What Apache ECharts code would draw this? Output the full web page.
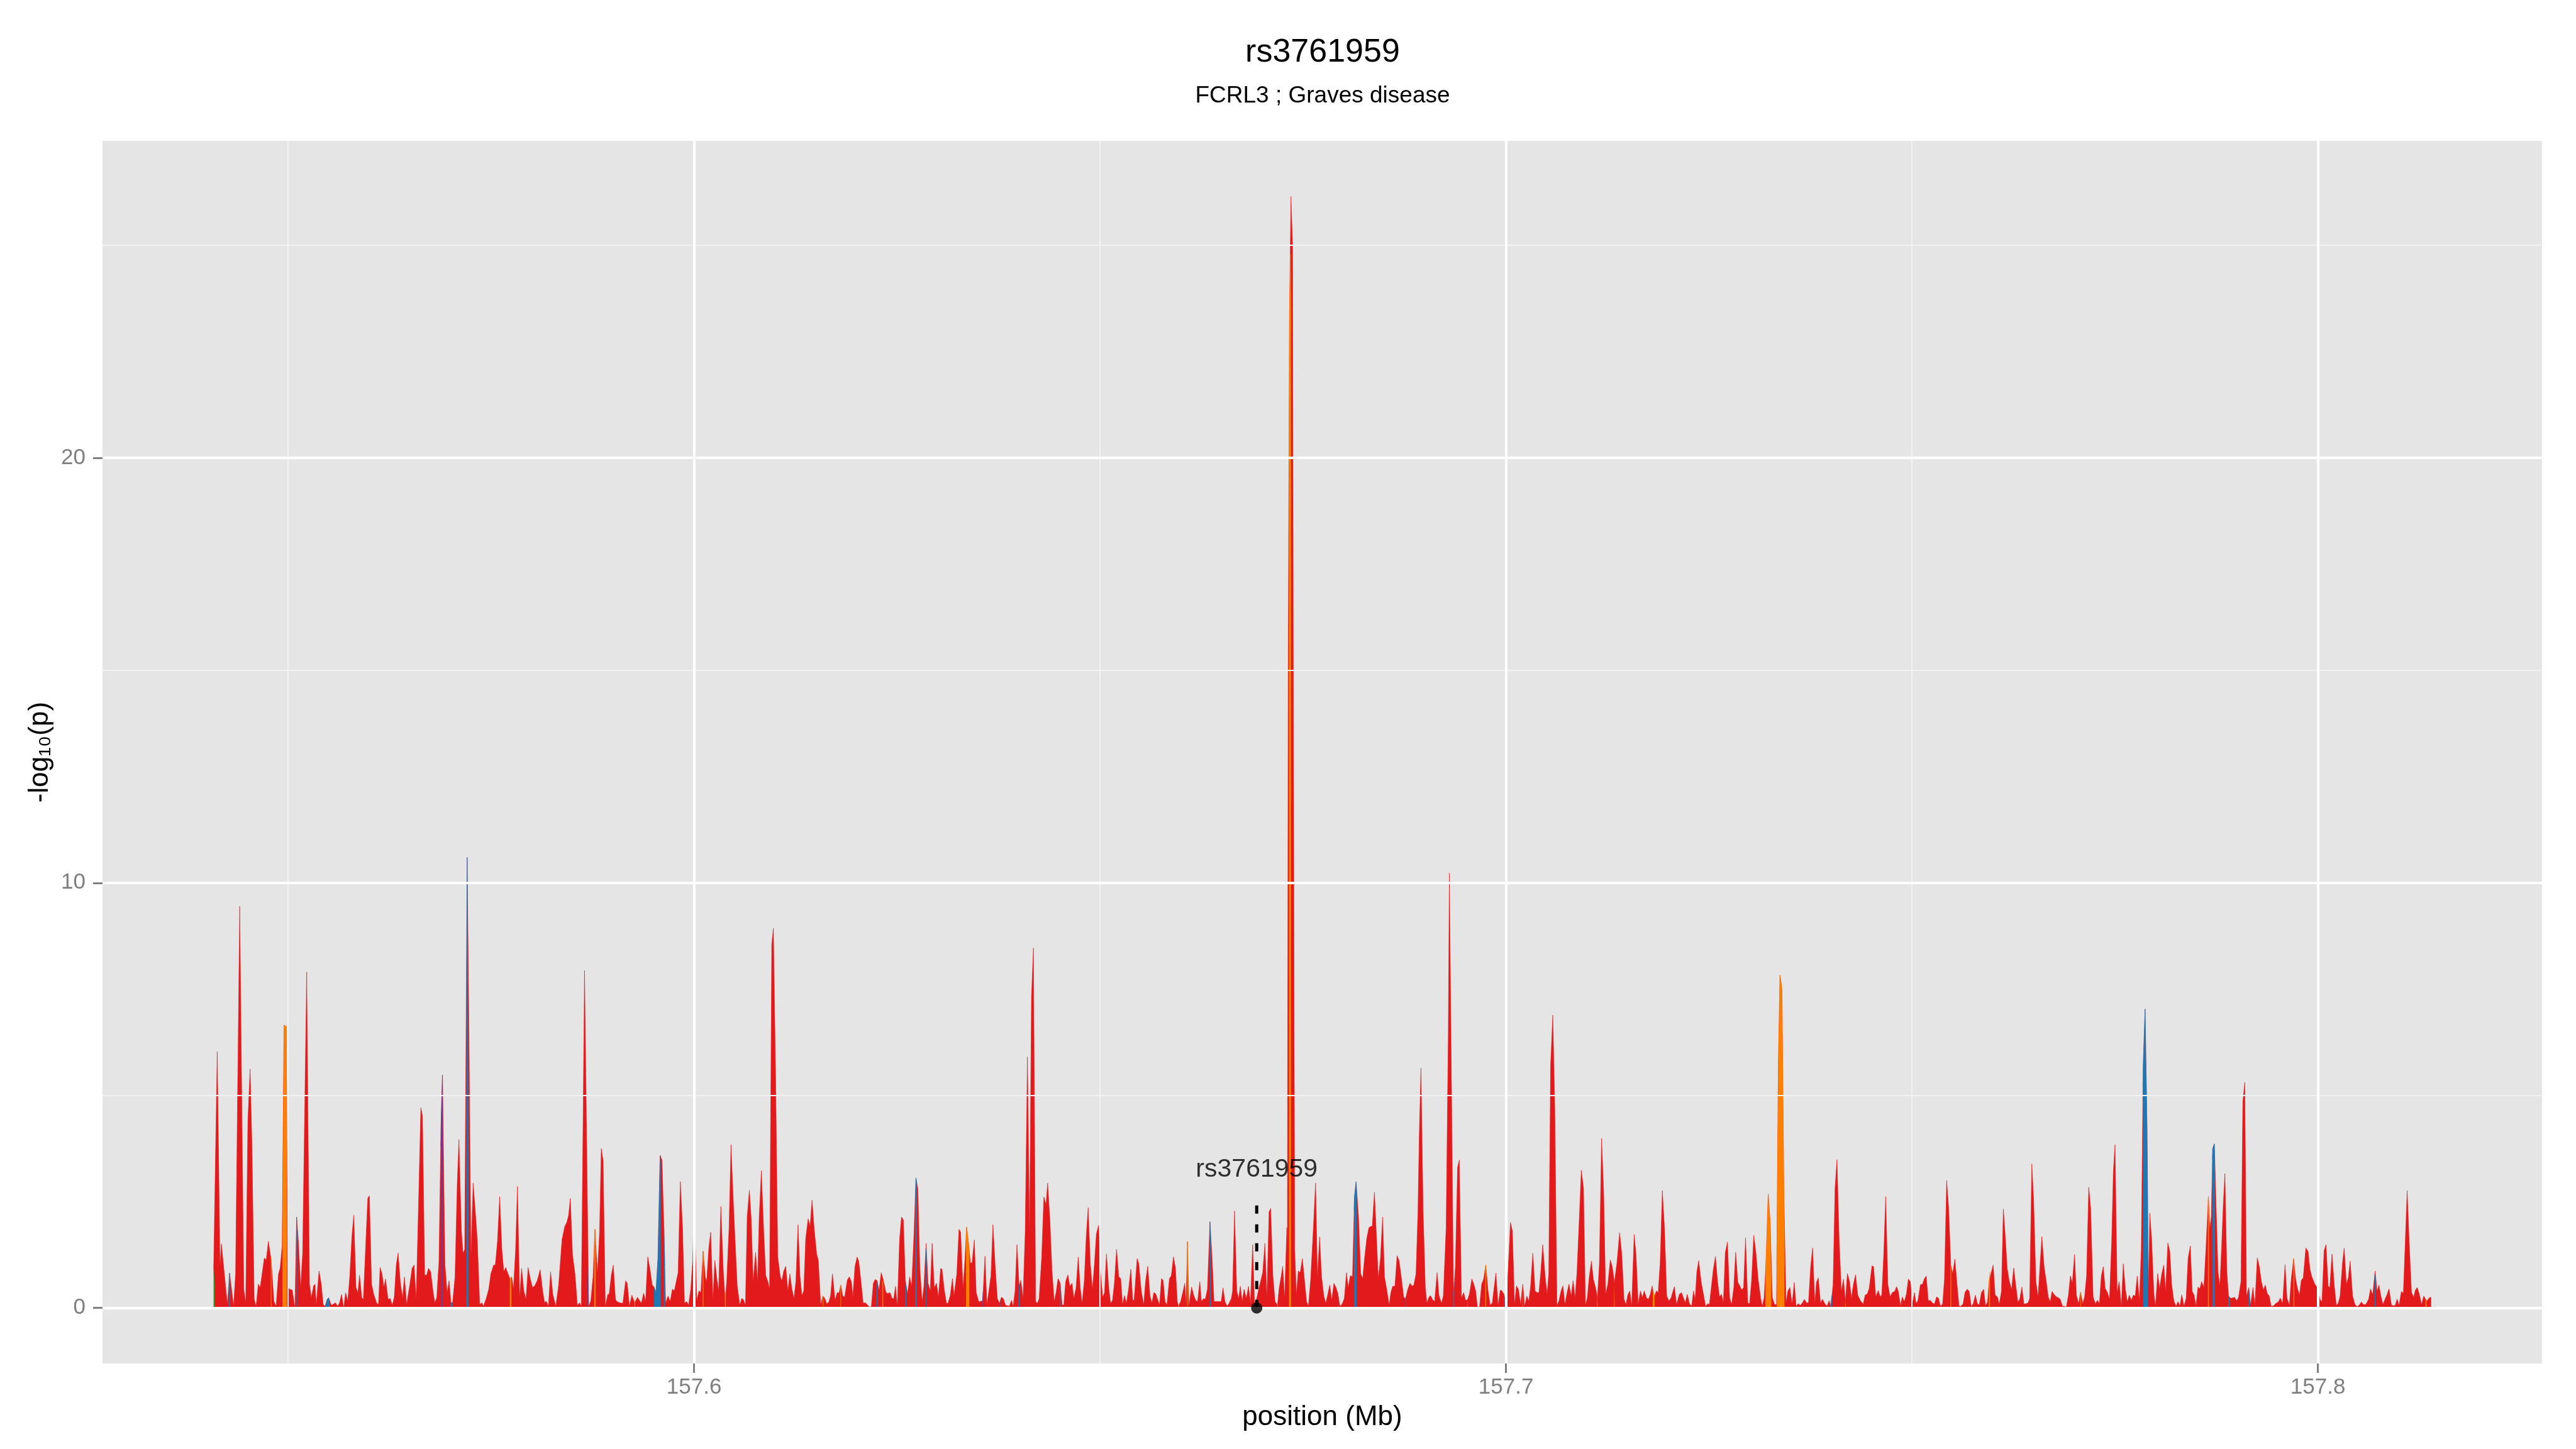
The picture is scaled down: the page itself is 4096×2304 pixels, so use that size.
<!DOCTYPE html>
<html>
<head>
<meta charset="utf-8">
<title>rs3761959</title>
<script src="https://cdn.jsdelivr.net/npm/echarts@6.0.0/dist/echarts.min.js"></script>
<style>
  html, body { margin: 0; padding: 0; background: #fff; }
  #chart { width: 4096px; height: 2304px; }
</style>
</head>
<body>
<div id="chart"></div>
<script>
// -log10(p) along the region, [position (Mb), value], split in windows
const logpA = [
  [157.54083,0.93],[157.54127,6.03],[157.54161,0.97],[157.54178,1.51],[157.54252,0.08],[157.54279,0.82],[157.54329,0.04],[157.54353,0.81],
  [157.54404,9.45],[157.54454,0.44],[157.54478,0.12],[157.54505,4.43],[157.54532,5.62],[157.54555,3.79],[157.54582,0.2],[157.54606,0.04],
  [157.54633,0.56],[157.54656,0.48],[157.54707,1.17],[157.54731,1.13],[157.54757,1.57],[157.54791,1.13],[157.54825,0.16],[157.54852,0.04],
  [157.54882,0.81],[157.54902,0.93],[157.54926,1.45],[157.54950,6.65],[157.54977,6.62],[157.54993,0.5],[157.55017,0.44],[157.55051,0.42],
  [157.55084,0],[157.55105,2.14],[157.55128,1.53],[157.55155,0.48],[157.55179,1.29],[157.55229,7.9],[157.55263,0.56],[157.55287,0.24],
  [157.55314,0.52],[157.55331,0.56],[157.55347,0.08],[157.55381,0.87],[157.55408,0.56],[157.55432,0.08],[157.55455,0.04],[157.55482,0.2],
  [157.55499,0.24],[157.55533,0.06],[157.55583,0.12],[157.55610,0.04],[157.55634,0.12],[157.55658,0.32],[157.55685,0],[157.55708,0.36],
  [157.55735,0.16],[157.55759,0.73],[157.55786,1.69],[157.55809,2.18],[157.55836,0.48],[157.55860,0.36],[157.55880,0.77],[157.55907,0.24],
  [157.55927,0.2],[157.55981,2.58],[157.56001,2.64],[157.56028,0.56],[157.56055,0.32],[157.56089,0.12],[157.56113,0.08],[157.56133,0.95],
  [157.56156,0.81],[157.56180,0.48],[157.56200,0.68],[157.56231,0.2],[157.56258,0.22],[157.56284,0.06],[157.56308,0.26],[157.56332,1.01],
  [157.56355,1.29],[157.56382,0.6],[157.56409,0.24],[157.56433,0.73],[157.56460,0.08],[157.56500,0.56],[157.56527,0.93],[157.56551,1.01],
  [157.56578,0.2],[157.56635,4.71],[157.56655,4.51],[157.56682,0.77],[157.56706,0.77],[157.56729,0.93],[157.56756,0.85],[157.56787,0.36],
  [157.56807,0.12],[157.56831,0.24],[157.56858,1.09],[157.56885,4.43],[157.56901,5.48],[157.56932,1.01],[157.56959,0.36],[157.56982,0.64],
  [157.57006,0.12],[157.57026,0.12],[157.57056,0.73],[157.57083,2.9],[157.57104,3.96],[157.57134,1.81],[157.57154,1.29],[157.57175,1.37],
  [157.57205,10.6],[157.57225,7.01],[157.57252,1.21],[157.57279,2.94],[157.57303,2.34],[157.57330,1.61],[157.57360,0.08],[157.57387,0.12],
  [157.57404,0.04],[157.57437,0.2],[157.57471,0.44],[157.57498,0.81],[157.57532,1.01],[157.57552,1.01],[157.57579,1.57],[157.57606,2.62],
  [157.57633,1.37],[157.57657,0.85],[157.57680,0.95],[157.57707,0.81],[157.57734,0.68],[157.57754,0.73],[157.57775,0.44],[157.57802,1.37],
  [157.57825,2.86],[157.57852,0.24],[157.57876,0.93],[157.57903,0.4],[157.57930,0.2],[157.57956,0.95],[157.57983,0.68],[157.58011,0.48],
  [157.58037,0.52],[157.58068,0.64],[157.58105,0.9],[157.58135,0.4],[157.58159,0.12],[157.58179,0.16],[157.58206,0.04],[157.58233,0.85],
  [157.58260,0.32],[157.58297,0.04],[157.58331,0.52],[157.58374,1.61],[157.58408,1.92],[157.58432,2.01],[157.58455,2.18],[157.58476,2.58],
  [157.58503,1.25],[157.58533,0.81],[157.58563,0.06],[157.58590,0.12],[157.58611,0.04],[157.58651,7.94],[157.58678,3.79],[157.58702,0.04],
  [157.58728,0.16],[157.58756,0.73],[157.58779,1.85],[157.58809,0.81],[157.58836,1.77],[157.58857,3.75],[157.58880,3.46],[157.58907,0.04],
  [157.58938,0.32],[157.58954,0.32],[157.58981,0.77],[157.59005,1.01],[157.59032,0.2]
]
const logpB = [
  [157.59049,0.15],[157.59083,0.12],[157.59123,0.11],[157.59157,0.64],[157.59177,0.58],[157.59204,0.04],[157.59234,0.3],[157.59268,0.11],
  [157.59302,0.25],[157.59352,0.11],[157.59379,0.35],[157.59403,0.15],[157.59430,1.2],[157.59457,0.91],[157.59484,0.54],[157.59507,0.49],
  [157.59531,0.36],[157.59555,1.16],[157.59582,3.59],[157.59605,3.48],[157.59629,1.89],[157.59649,0.11],[157.59679,0.28],[157.59706,0.15],
  [157.59733,0.44],[157.59757,0.4],[157.59784,0.65],[157.59804,0.83],[157.59831,2.97],[157.59858,1.89],[157.59882,0.11],[157.59909,0.15],
  [157.59932,0.07],[157.59959,0.44],[157.59983,1.09],[157.60003,2.39],[157.60033,0.18],[157.60060,0.4],[157.60084,0.36],[157.60111,1.34],
  [157.60138,0.73],[157.60155,0.62],[157.60182,1.41],[157.60205,1.78],[157.60232,0.18],[157.60256,1.12],[157.60283,0.65],[157.60303,0.4],
  [157.60330,2.39],[157.60360,0.87],[157.60384,0.15],[157.60404,0.69],[157.60431,1.89],[157.60455,3.84],[157.60482,2.57],[157.60505,1.6],
  [157.60532,0.51],[157.60563,0.07],[157.60586,0.22],[157.60606,0.2],[157.60633,0.07],[157.60654,2.14],[157.60681,2.77],[157.60704,2.1],
  [157.60728,0.62],[157.60758,1.31],[157.60782,0.62],[157.60802,2.14],[157.60829,3.23],[157.60856,1.89],[157.60883,0.76],[157.60910,0.62],
  [157.60930,0.44],[157.60957,8.56],[157.60977,8.93],[157.61004,5.51],[157.61031,1.2],[157.61062,0.73],[157.61082,0.64],[157.61105,0.87],
  [157.61129,0.98],[157.61156,0.4],[157.61180,0.8],[157.61203,0.47],[157.61230,0.22],[157.61254,0.62],[157.61281,1.96],[157.61304,0.76],
  [157.61328,0.29],[157.61351,0.4],[157.61375,1.63],[157.61405,2.1],[157.61429,1.92],[157.61453,2.54],[157.61480,1.85],[157.61510,1.27],
  [157.61530,1.12],[157.61560,0.07],[157.61587,0.28],[157.61611,0.22],[157.61635,0.09],[157.61662,0.15],[157.61682,0.29],[157.61705,0.8],
  [157.61736,0.18],[157.61763,0.36],[157.61786,0.35],[157.61807,0.54],[157.61830,0.29],[157.61854,0.25],[157.61887,0.65],[157.61911,0.73],
  [157.61938,0.62],[157.61955,0.25],[157.61982,0.98],[157.62009,1.2],[157.62029,1.09],[157.62056,0.62],[157.62083,0.11],[157.62110,0.12],
  [157.62137,0.07],[157.62167,0.01],[157.62184,0.04],[157.62208,0.58],[157.62231,0.67],[157.62255,0.64],[157.62278,0.4],[157.62305,0.83],
  [157.62332,0.65],[157.62363,0.36],[157.62386,0.34],[157.62413,0.36],[157.62440,0.22],[157.62460,0.22],[157.62481,0.51],[157.62504,0.04],
  [157.62531,1.6],[157.62555,2.14],[157.62578,2.07],[157.62602,0.65],[157.62629,0.33],[157.62656,0.73],[157.62680,0.51],[157.62707,1.67],
  [157.62733,3.06],[157.62757,2.79],[157.62781,0.94],[157.62808,0.15],[157.62831,0.51],[157.62858,1.52],[157.62882,0.58],[157.62909,0.4],
  [157.62932,1.52],[157.62959,0.47],[157.62986,0.58],[157.63010,0.25],[157.63037,0.93],[157.63054,0.91],[157.63081,0.44],[157.63108,0.11],
  [157.63128,0.11],[157.63155,0.29],[157.63182,0.69],[157.63202,0.29],[157.63236,0.8],[157.63263,1.85],[157.63283,1.78],[157.63313,0.44],
  [157.63337,1.16],[157.63357,1.9],[157.63384,1.45],[157.63404,1.05],[157.63425,1.07],[157.63452,1.6],[157.63475,0.36],[157.63506,0.15],
  [157.63532,0.15],[157.63556,0.18],[157.63583,1.22],[157.63607,0.07],[157.63634,0.44],[157.63657,0.76],[157.63681,1.96],[157.63708,1.02],
  [157.63735,0.22],[157.63762,0.11],[157.63785,0.25],[157.63809,0.22],[157.63836,0.06],[157.63863,0.05],[157.63883,0.04],[157.63910,0.18],
  [157.63930,0.04],[157.63954,0.4],[157.63977,1.49],[157.64004,0.51],[157.64025,0.65],[157.64052,0.22],[157.64079,1.81],[157.64106,5.91],
  [157.64132,1.78],[157.64156,7.32],[157.64180,8.47],[157.64207,0.15],[157.64230,0.11],[157.64250,0.22],[157.64281,1.16],[157.64308,2.61],
  [157.64335,2.43]
]
const logpC = [
  [157.64355,2.94],[157.64382,2.1],[157.64409,0.87],[157.64436,0.15],[157.64459,0.36],[157.64483,0.69],[157.64510,0.58],[157.64533,0.07],
  [157.64554,0.07],[157.64577,0.62],[157.64604,0.78],[157.64628,0.51],[157.64655,0.58],[157.64678,0.22],[157.64705,0.47],[157.64732,1.2],
  [157.64756,0.47],[157.64779,0.11],[157.64806,0.62],[157.64830,1.67],[157.64854,2.36],[157.64881,1.02],[157.64907,0.44],[157.64931,1.02],
  [157.64955,1.74],[157.64982,1.94],[157.65005,0.87],[157.65032,0.25],[157.65056,0.36],[157.65079,1.27],[157.65106,0.51],[157.65130,0.11],
  [157.65154,0.18],[157.65177,0.58],[157.65204,1.38],[157.65231,0.73],[157.65255,0.69],[157.65278,0.07],[157.65302,0.29],[157.65325,0.11],
  [157.65352,0.44],[157.65379,0.91],[157.65403,0.18],[157.65420,0.18],[157.65457,1.16],[157.65477,1.05],[157.65508,0.4],[157.65538,0.07],
  [157.65561,0.62],[157.65588,0.98],[157.65615,0.29],[157.65639,0.11],[157.65663,0.36],[157.65686,0.33],[157.65706,0.22],[157.65733,0.07],
  [157.65757,0.69],[157.65777,0.65],[157.65801,0.15],[157.65824,0.07],[157.65855,0.69],[157.65878,0.76],[157.65905,1.2],[157.65929,0.94],
  [157.65952,0.15],[157.65966,0.04],[157.65993,0.15],[157.66020,0.36],[157.66044,0.58],[157.66060,0.04],[157.66077,1.56],[157.66094,0.04],
  [157.66128,0.49],[157.66155,0.29],[157.66178,0.18],[157.66202,0.15],[157.66229,0.62],[157.66249,0.15],[157.66276,0.22],[157.66296,0.2],
  [157.66323,0.44],[157.66354,2.03],[157.66381,1.16],[157.66404,0.15],[157.66431,0.15],[157.66465,0.15],[157.66492,0.15],[157.66515,0.47],
  [157.66539,0.15],[157.66566,0.04],[157.66590,0.11],[157.66617,0.22],[157.66633,0.4],[157.66657,2.28],[157.66684,0.4],[157.66708,0.22],
  [157.66728,0.51],[157.66751,0.15],[157.66775,0.44],[157.66802,0.22],[157.66829,0.51],[157.66853,0.11],[157.66880,1.49],[157.66903,0.11],
  [157.66930,0.22],[157.66954,0.44],[157.66977,0.62],[157.67004,0.83],[157.67031,1.52],[157.67055,0.22],[157.67082,2.26],[157.67102,2.34],
  [157.67129,0.76],[157.67156,0.15],[157.67186,0.07],[157.67207,0.47],[157.67233,0.76],[157.67250,0.98],[157.67274,0.22],[157.67301,1.89],
  [157.67308,1.5],[157.67318,15.2],[157.67334,23.45],[157.67352,26.15],[157.67372,24.96],[157.67380,15.65],[157.67388,9.27],[157.67398,1.38],
  [157.67419,0.29],[157.67442,0.87],[157.67466,0.83],[157.67493,1.16],[157.67520,0.62],[157.67544,0.15],[157.67567,0.04],[157.67594,0.65],
  [157.67628,1.89],[157.67655,2.94],[157.67678,0.73],[157.67705,1.67],[157.67729,0.73],[157.67756,0.29],[157.67780,0.11],[157.67807,0.33],
  [157.67830,0.54],[157.67854,0.18],[157.67881,0.58],[157.67908,0.47],[157.67931,0.33],[157.67955,0.04],[157.67982,0.09],[157.68009,0.22],
  [157.68036,0.83],[157.68056,0.47],[157.68083,0.76],[157.68110,0.73],[157.68134,2.61],[157.68154,2.97],[157.68184,2.14],[157.68211,0.8],
  [157.68235,0.69],[157.68258,1.16],[157.68285,1.63],[157.68312,1.89],[157.68336,1.92],[157.68353,1.92],[157.68380,2.72],[157.68407,1.6],
  [157.68427,0.69],[157.68454,1.16],[157.68481,2.14],[157.68504,0.73],[157.68528,0.47],[157.68562,0.07],[157.68582,0.36],[157.68605,0.51],
  [157.68632,0.51],[157.68659,1.23],[157.68683,1.12],[157.68710,0.73],[157.68740,0.25],[157.68764,0.22],[157.68791,0.44],[157.68818,0.58],
  [157.68845,0.51],[157.68865,0.54],[157.68892,0.8],[157.68916,2.25],[157.68932,4.06],[157.68953,5.64],[157.68980,2.25],[157.69007,0.47],
  [157.69027,0.11],[157.69050,0.25],[157.69071,0.29],[157.69094,0.2],[157.69121,0.15],[157.69152,0.83],[157.69175,0.29],[157.69206,0.11],
  [157.69229,0.29],[157.69263,1.89],[157.69290,6.49]
]
const logpD = [
  [157.69303,10.23],[157.69330,5.0],[157.69354,0.24],[157.69377,0.97],[157.69404,3.3],[157.69425,3.48],[157.69452,0.24],[157.69479,0.36],
  [157.69502,0.18],[157.69526,0.19],[157.69549,0.32],[157.69580,0.68],[157.69603,0.56],[157.69627,0.4],[157.69650,0],[157.69674,0.02],
  [157.69701,0.56],[157.69725,0.68],[157.69752,1.01],[157.69779,0.4],[157.69806,0.06],[157.69832,0.12],[157.69876,0.82],[157.69903,0.06],
  [157.69930,0.42],[157.69950,0.4],[157.69977,0.32],[157.70004,0],[157.70028,0.93],[157.70055,2.01],[157.70079,1.81],[157.70106,0.06],
  [157.70129,0.52],[157.70153,0.44],[157.70180,0.08],[157.70207,0.56],[157.70230,0.04],[157.70257,0.28],[157.70281,0.16],[157.70304,0.52],
  [157.70331,1.29],[157.70358,0.4],[157.70382,0.36],[157.70406,0.36],[157.70429,0.85],[157.70453,1.49],[157.70483,0.73],[157.70507,0.32],
  [157.70527,0.81],[157.70550,5.72],[157.70577,6.89],[157.70601,4.75],[157.70628,0.06],[157.70652,0.16],[157.70679,0.4],[157.70702,0.52],
  [157.70726,0.08],[157.70753,0.36],[157.70776,0.56],[157.70803,0.28],[157.70827,0.64],[157.70851,0.24],[157.70874,0.81],[157.70904,2.14],
  [157.70928,3.24],[157.70955,2.82],[157.70979,0.06],[157.71002,0.24],[157.71026,0.73],[157.71053,1.1],[157.71076,0.68],[157.71103,0.48],
  [157.71127,0.24],[157.71151,1.05],[157.71178,3.99],[157.71204,2.66],[157.71228,0.32],[157.71255,0.56],[157.71285,1.13],[157.71309,0.97],
  [157.71336,0.6],[157.71366,1.05],[157.71400,1.77],[157.71427,1.25],[157.71454,0.2],[157.71478,0.08],[157.71501,0.31],[157.71525,0.4],
  [157.71548,0.04],[157.71579,1.73],[157.71602,1.25],[157.71629,0.08],[157.71656,0.4],[157.71680,0.24],[157.71703,0.4],[157.71730,0.24],
  [157.71754,0.2],[157.71778,0.32],[157.71801,0.52],[157.71825,0.24],[157.71852,0.4],[157.71875,0.36],[157.71899,1.05],[157.71926,2.76],
  [157.71953,1.85],[157.71980,0.28],[157.72007,0.16],[157.72034,0.24],[157.72074,0.5],[157.72101,0.08],[157.72135,0.32],[157.72162,0.36],
  [157.72185,0.24],[157.72209,0.12],[157.72233,0.32],[157.72260,0.1],[157.72287,0.04],[157.72310,0.4],[157.72330,0.2],[157.72351,0.85],
  [157.72374,1.11],[157.72405,0.6],[157.72432,0.32],[157.72459,0.04],[157.72485,0.1],[157.72506,0.08],[157.72529,0.48],[157.72553,0.89],
  [157.72580,1.21],[157.72607,0.6],[157.72630,0.26],[157.72654,0.32],[157.72678,0.12],[157.72701,1.29],[157.72728,1.55],[157.72755,0.24],
  [157.72779,0.08],[157.72806,0.48],[157.72829,1.31],[157.72856,0.6],[157.72880,0.52],[157.72903,0.42],[157.72927,0.48],[157.72951,1.65],
  [157.72978,0.12],[157.73001,0.1],[157.73025,0.64],[157.73052,1.71],[157.73079,1.29],[157.73106,0.68],[157.73136,0.24],[157.73156,0.04],
  [157.73180,0.24],[157.73204,1.13],[157.73230,2.68],[157.73254,2.01],[157.73281,0.24],[157.73308,0.08],[157.73332,0.08],[157.73355,5.72],
  [157.73375,7.83],[157.73399,7.49],[157.73423,2.58],[157.73450,0.12],[157.73473,0.4],[157.73497,0.48],[157.73524,0.08],[157.73551,0.6],
  [157.73574,0.04],[157.73601,0.1],[157.73625,0.06],[157.73652,0.12],[157.73675,0.2],[157.73702,0.12],[157.73726,0.12],[157.73753,0.97],
  [157.73777,1.41],[157.73804,0.1],[157.73824,0.6],[157.73847,0.71],[157.73874,0.12],[157.73898,0.2]
]
const logpE = [
  [157.73928,0.1],[157.73955,0.04],[157.73979,0.17],[157.74002,0.04],[157.74029,0.55],[157.74053,2.81],[157.74077,3.49],[157.74104,1.59],
  [157.74131,0.39],[157.74157,0.68],[157.74181,0.17],[157.74205,0.81],[157.74232,0.62],[157.74255,0.23],[157.74279,0.55],[157.74306,0.78],
  [157.74333,0.3],[157.74366,0.17],[157.74400,0.09],[157.74424,0.3],[157.74451,0.33],[157.74474,0.46],[157.74508,0.99],[157.74528,0.97],
  [157.74555,0.26],[157.74586,0.41],[157.74609,0.26],[157.74629,0.31],[157.74653,1.26],[157.74677,2.62],[157.74704,0.55],[157.74731,0.26],
  [157.74758,0.36],[157.74788,0.39],[157.74811,0.5],[157.74832,0.39],[157.74859,0.05],[157.74882,0.26],[157.74906,0.14],[157.74933,0.33],
  [157.74956,0.68],[157.74980,0.62],[157.75007,0.1],[157.75031,0.36],[157.75051,0.1],[157.75074,0.17],[157.75105,0.55],[157.75128,0.55],
  [157.75152,0.68],[157.75176,0.75],[157.75202,0.17],[157.75226,0.18],[157.75250,0.12],[157.75277,0.09],[157.75304,0.26],[157.75327,0.23],
  [157.75351,0.04],[157.75378,0.09],[157.75401,0.68],[157.75428,3.0],[157.75452,2.36],[157.75479,1.01],[157.75503,0.81],[157.75529,1.15],
  [157.75556,0.55],[157.75580,0.04],[157.75604,0.04],[157.75631,0.1],[157.75654,0.37],[157.75681,0.44],[157.75705,0.39],[157.75732,0.03],
  [157.75755,0.1],[157.75782,0.3],[157.75806,0.1],[157.75829,0.07],[157.75856,0.36],[157.75883,0.44],[157.75907,0.05],[157.75931,0.14],
  [157.75951,0.62],[157.75974,0.81],[157.76001,1.01],[157.76025,0.3],[157.76052,0.26],[157.76076,0.09],[157.76103,0.39],[157.76126,2.33],
  [157.76153,1.59],[157.76173,0.94],[157.76197,0.65],[157.76227,0.43],[157.76254,0.94],[157.76278,0.55],[157.76305,0.14],[157.76328,0.2],
  [157.76355,0.49],[157.76379,0.09],[157.76406,0.1],[157.76430,0.12],[157.76450,0.22],[157.76477,3.39],[157.76500,2.49],[157.76527,0.62],
  [157.76554,0.26],[157.76578,1.01],[157.76601,1.68],[157.76628,0.97],[157.76655,0.62],[157.76679,0.26],[157.76703,0.14],[157.76726,0.39],
  [157.76753,0.31],[157.76780,0.26],[157.76804,0.24],[157.76827,0.2],[157.76854,0.04],[157.76878,0.04],[157.76901,0.01],[157.76928,0.3],
  [157.76952,0.75],[157.76976,0.59],[157.77003,1.26],[157.77026,0.3],[157.77053,0.1],[157.77077,0.37],[157.77104,0.1],[157.77127,0.26],
  [157.77151,0.75],[157.77178,2.84],[157.77201,2.36],[157.77232,0.26],[157.77259,0.1],[157.77286,0.18],[157.77309,0.1],[157.77333,0.75],
  [157.77357,0.97],[157.77380,0.46],[157.77407,0.37],[157.77434,0.2],[157.77461,1.62],[157.77481,3.2],[157.77502,3.84],[157.77528,0.36],
  [157.77552,0.62],[157.77579,0.04],[157.77603,1.04],[157.77630,0.43],[157.77653,0.14],[157.77677,0.3],[157.77704,0.18],[157.77727,0.3],
  [157.77751,0.28],[157.77775,0.75],[157.77802,0.17],[157.77825,1.39],[157.77849,5.71],[157.77872,7.03],[157.77896,4.16],[157.77913,0.43],
  [157.77930,2.23],[157.77953,1.59],[157.77980,0.33],[157.78000,0.04],[157.78027,0.81],[157.78051,0.46],[157.78078,0.81],[157.78102,1.01],
  [157.78125,0.39],[157.78152,1.53],[157.78176,1.33],[157.78199,0.55],[157.78226,0.17],[157.78253,0.04],[157.78277,0.15],[157.78300,0.04],
  [157.78324,0.31],[157.78351,0.04],[157.78378,0.23],[157.78402,1.17],[157.78429,1.46],[157.78452,0.39],[157.78476,0.3],[157.78499,0.04],
  [157.78523,0.49]
]
const logpF = [
  [157.78546,0.45],[157.78569,0.62],[157.78596,0.48],[157.78622,1.41],[157.78652,2.62],[157.78669,1.86],[157.78687,2.14],[157.78705,3.75],
  [157.78725,3.86],[157.78746,2.43],[157.78770,0.85],[157.78793,0.51],[157.78814,1.41],[157.78835,2.43],[157.78855,3.16],[157.78879,0.85],
  [157.78900,0.28],[157.78923,0.23],[157.78944,0.23],[157.78973,0.25],[157.79000,0.17],[157.79023,0.25],[157.79053,0.62],[157.79076,4.85],
  [157.79100,5.31],[157.79121,0.28],[157.79150,0.48],[157.79171,0.06],[157.79200,0.48],[157.79224,0.06],[157.79254,1.18],[157.79277,0.99],
  [157.79304,0.62],[157.79330,0.42],[157.79351,0.54],[157.79377,0.34],[157.79401,0.28],[157.79425,0.03],[157.79454,0.05],[157.79484,0.11],
  [157.79513,0.14],[157.79537,0.23],[157.79566,0.11],[157.79596,1.02],[157.79619,0.23],[157.79649,0.06],[157.79672,0.68],[157.79702,1.16],
  [157.79726,0.68],[157.79749,0.45],[157.79773,0.31],[157.79796,0.65],[157.79820,0.71],[157.79852,1.41],[157.79879,1.33],[157.79903,0.9],
  [157.79926,0.73],[157.79962,0.56],[157.79991,0.48],[157.80009,0.37],[157.80026,0.2],[157.80050,0.14],[157.80077,1.35],[157.80100,1.49],
  [157.80127,0.51],[157.80147,0.48],[157.80174,1.27],[157.80203,0.51],[157.80227,0.06],[157.80251,0.11],[157.80274,0.28],[157.80304,1.07],
  [157.80324,1.41],[157.80351,0.56],[157.80375,0.71],[157.80398,1.1],[157.80428,0.28],[157.80457,0.08],[157.80484,0.03],[157.80507,0.06],
  [157.80537,0.14],[157.80560,0.08],[157.80590,0.08],[157.80625,0.2],[157.80649,0.45],[157.80675,0.31],[157.80705,0.87],[157.80729,0.39],
  [157.80752,0.54],[157.80776,0.28],[157.80802,0.08],[157.80826,0.2],[157.80852,0.31],[157.80876,0.45],[157.80906,0.07],[157.80929,0.05],
  [157.80953,0.06],[157.80976,0.21],[157.81000,0.06],[157.81029,0.39],[157.81053,0.34],[157.81077,1.58],[157.81100,2.76],[157.81124,1.58],
  [157.81153,0.37],[157.81180,0.25],[157.81201,0.42],[157.81224,0.48],[157.81251,0.31],[157.81277,0.08],[157.81304,0.28],[157.81327,0.2],
  [157.81348,0.17],[157.81372,0.24],[157.81395,0.25]
]

// stretches filled in the other LD colours (drawn over the red)
const orangeBands = [
  [[157.54787,1.2],[157.54795,1.1]],
  [[157.54930,1.45],[157.54950,6.65],[157.54977,6.62],[157.54985,3.5]],
  [[157.57731,0.68],[157.57750,0.73]],
  [[157.58770,1.2],[157.58779,1.85],[157.58788,1.2]],
  [[157.59265,0.2],[157.59275,0.15]],
  [[157.60106,1.0],[157.60111,1.34],[157.60116,1.1]],
  [[157.60380,0.3],[157.60392,0.4]],
  [[157.61584,0.28],[157.61592,0.2]],
  [[157.61803,0.54],[157.61810,0.4]],
  [[157.62318,0.6],[157.62330,0.65]],
  [[157.63350,1.7],[157.63357,1.9],[157.63384,1.45],[157.63390,1.3]],
  [[157.65963,0.1],[157.65970,0.05]],
  [[157.66073,1.0],[157.66077,1.56],[157.66083,0.8]],
  [[157.67184,0.1],[157.67192,0.07]],
  [[157.67328,20],[157.67334,23.45],[157.67346,24.8],[157.67352,23]],
  [[157.69524,0.19],[157.69531,0.2]],
  [[157.69745,0.9],[157.69752,1.01],[157.69756,0.8]],
  [[157.70203,0.5],[157.70210,0.5]],
  [[157.71120,0.3],[157.71130,0.3]],
  [[157.71332,0.6],[157.71340,0.6]],
  [[157.71808,0.4],[157.71830,0.3]],
  [[157.73196,0.4],[157.73204,1.13],[157.73230,2.68],[157.73254,2.01],[157.73268,0.6]],
  [[157.73335,1.0],[157.73355,5.72],[157.73375,7.83],[157.73399,7.49],[157.73423,2.58],[157.73430,1.0]],
  [[157.74177,0.2],[157.74186,0.2]],
  [[157.75474,1.01],[157.75484,0.9]],
  [[157.75948,0.62],[157.75962,0.85]],
  [[157.77074,0.37],[157.77081,0.3]],
  [[157.78646,2.5],[157.78652,2.62],[157.78659,2.2]],
  [[157.79699,1.16],[157.79710,0.9]],
  [[157.81325,0.2],[157.81340,0.17]]
]
const blueBands = [
  [[157.54272,0.3],[157.54279,0.82],[157.54286,0.3]],
  [[157.55100,1.2],[157.55105,2.14],[157.55112,1.6]],
  [[157.55462,0.05],[157.55482,0.2],[157.55499,0.24],[157.55512,0.08]],
  [[157.57003,0.12],[157.57022,0.12]],
  [[157.57197,3],[157.57205,10.6],[157.57213,7.5],[157.57220,2]],
  [[157.59507,0.49],[157.59531,0.36],[157.59555,1.16],[157.59582,3.59],[157.59590,3.3]],
  [[157.59629,1.89],[157.59640,1.0]],
  [[157.62250,0.6],[157.62260,0.5]],
  [[157.62604,0.6],[157.62615,0.45]],
  [[157.62724,2.4],[157.62733,3.06],[157.62745,2.9]],
  [[157.62855,1.4],[157.62862,1.2]],
  [[157.63772,0.18],[157.63782,0.2]],
  [[157.63998,0.6],[157.64008,0.5]],
  [[157.64505,0.58],[157.64515,0.45]],
  [[157.66350,1.6],[157.66354,2.03],[157.66366,1.5]],
  [[157.67928,0.33],[157.67936,0.2]],
  [[157.68128,2.3],[157.68134,2.61],[157.68154,2.97],[157.68160,2.7]],
  [[157.68762,0.22],[157.68769,0.25]],
  [[157.69350,0.3],[157.69362,0.6]],
  [[157.69973,0.32],[157.69984,0.2]],
  [[157.73998,0.04],[157.74014,0.3]],
  [[157.77845,5.2],[157.77849,5.71],[157.77872,7.03],[157.77896,4.16],[157.77905,2.0]],
  [[157.78700,3.5],[157.78705,3.75],[157.78725,3.86],[157.78733,3.0]],
  [[157.78897,0.28],[157.78915,0.24]],
  [[157.79148,0.45],[157.79160,0.3]],
  [[157.80005,0.37],[157.80015,0.28]],
  [[157.80700,0.8],[157.80710,0.6]]
]
const purpleBands = [
  [[157.56880,3.8],[157.56885,4.43],[157.56901,5.48],[157.56906,3.5]],
  [[157.58685,1.0],[157.58692,0.4]],
  [[157.63553,0.18],[157.63560,0.4]]
]
const greenBands = [
  [[157.54083,0.93],[157.54095,0.5]]
]

// lead SNP marker
const leadSnp = 'rs3761959'
const leadPos = 157.6693
const leadLineTop = 2.59
const leadLabelAt = 3.26

const xTicks = [157.6, 157.7, 157.8]
const xMinor = [157.55, 157.65, 157.75]
const yTicks = [0, 10, 20]
const yMinor = [5, 15, 25]
const xRange = [157.52714, 157.82761]
const yRange = [-1.3075, 27.4575]

const colors = { red: '#E31A1C', orange: '#FF7F00', blue: '#1F78B4', purple: '#6A3D9A', green: '#33A02C' }
const font = "'Liberation Sans', Arial, Helvetica, sans-serif"

const chart = echarts.init(document.getElementById('chart'))

const bandSeries = (bands, color) => bands.map((b) => ({
  type: 'line',
  data: b,
  symbol: 'none',
  silent: true,
  z: 3,
  lineStyle: { width: 0.6, color },
  areaStyle: { color, opacity: 1 },
}))

const major = { color: '#FFFFFF', width: 4, type: 'solid', opacity: 1 }
const minor = { color: '#F2F2F2', width: 2, type: 'solid', opacity: 1 }
const gridMarks = [
  ...yMinor.map((v) => ({ yAxis: v, lineStyle: minor })),
  ...xMinor.map((v) => ({ xAxis: v, lineStyle: minor })),
  ...yTicks.map((v) => ({ yAxis: v, lineStyle: major })),
  ...xTicks.map((v) => ({ xAxis: v, lineStyle: major })),
]

chart.setOption({
  animation: false,
  backgroundColor: '#FFFFFF',
  graphic: [
    {
      type: 'text', x: 2103, y: 84, silent: true,
      style: { text: leadSnp, font: `52px ${font}`, fill: '#000', align: 'center', verticalAlign: 'middle' },
    },
    {
      type: 'text', x: 2103, y: 153, silent: true,
      style: { text: 'FCRL3 ; Graves disease', font: `37px ${font}`, fill: '#000', align: 'center', verticalAlign: 'middle' },
    },
  ],
  grid: {
    left: 163, right: 54, top: 224, bottom: 136,
    show: true, backgroundColor: '#E5E5E5', borderWidth: 0,
    containLabel: false, outerBoundsMode: 'none',
  },
  xAxis: {
    type: 'value', min: xRange[0], max: xRange[1],
    name: 'position (Mb)', nameLocation: 'middle', nameGap: 64,
    nameTextStyle: { fontSize: 44, color: '#000', fontFamily: font },
    axisLine: { show: false, onZero: false },
    axisTick: { show: true, customValues: xTicks, length: 15, lineStyle: { color: '#7F7F7F', width: 3 } },
    axisLabel: { customValues: xTicks, margin: 21, fontSize: 35, color: '#7F7F7F', fontFamily: font, formatter: (v) => v.toFixed(1) },
    splitLine: { show: false },
  },
  yAxis: {
    type: 'value', min: yRange[0], max: yRange[1],
    name: '-log₁₀(p)', nameLocation: 'middle', nameGap: 77, nameRotate: 90,
    nameTextStyle: { fontSize: 44, color: '#000', fontFamily: font },
    axisLine: { show: false, onZero: false },
    axisTick: { show: true, customValues: yTicks, length: 15, lineStyle: { color: '#7F7F7F', width: 3 } },
    axisLabel: { customValues: yTicks, margin: 27, fontSize: 35, color: '#7F7F7F', fontFamily: font },
    splitLine: { show: false },
  },
  series: [
    {
      // only carries the panel grid lines, under the areas
      type: 'line', data: [], z: 1, silent: true, symbol: 'none',
      markLine: {
        silent: true, symbol: 'none', label: { show: false }, animation: false,
        lineStyle: major, emphasis: { disabled: true }, data: gridMarks,
      },
    },
    {
      type: 'line',
      data: [...logpA, ...logpB, ...logpC, ...logpD, ...logpE, ...logpF],
      symbol: 'none',
      silent: true,
      z: 2,
      lineStyle: { width: 0.6, color: colors.red },
      areaStyle: { color: colors.red, opacity: 1 },
    },
    ...bandSeries(orangeBands, colors.orange),
    ...bandSeries(blueBands, colors.blue),
    ...bandSeries(purpleBands, colors.purple),
    ...bandSeries(greenBands, colors.green),
    {
      type: 'line',
      data: [[leadPos, 0], [leadPos, leadLineTop]],
      symbol: 'none', z: 4, silent: true,
      lineStyle: { color: '#000', width: 5, type: [13, 17] },
    },
    {
      type: 'scatter', data: [[leadPos, 0]], symbolSize: 18, z: 5, silent: true,
      itemStyle: { color: '#000' },
    },
    {
      type: 'scatter', data: [[leadPos, leadLabelAt]], symbolSize: 0, z: 5, silent: true,
      label: { show: true, position: 'inside', formatter: leadSnp, fontSize: 41, color: '#000', fontFamily: font },
    },
  ],
})
</script>
</body>
</html>
